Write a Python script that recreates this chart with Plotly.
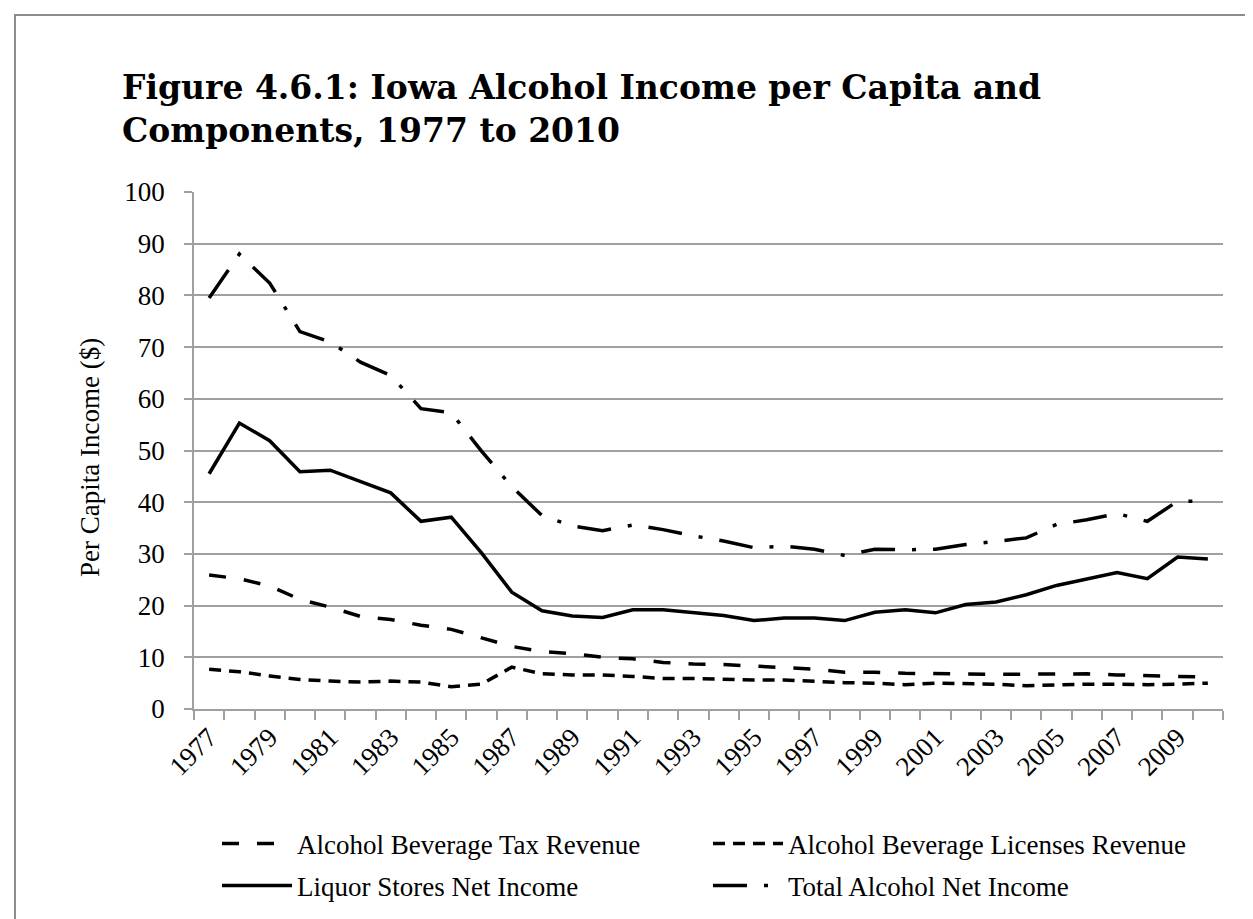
import plotly.graph_objects as go

years = list(range(1977, 2011))

tax_revenue = [25.9, 25.2, 23.8, 21.2, 19.7, 17.9, 17.3, 16.2, 15.4, 13.7,
               12.1, 11.1, 10.7, 10.0, 9.7, 9.0, 8.7, 8.6, 8.3, 8.1,
               7.7, 7.1, 7.1, 6.9, 6.9, 6.8, 6.7, 6.7, 6.8, 6.8,
               6.6, 6.4, 6.3, 6.2]

license_revenue = [7.7, 7.2, 6.4, 5.7, 5.4, 5.2, 5.4, 5.2, 4.3, 4.8,
                   8.1, 6.8, 6.6, 6.6, 6.3, 5.9, 5.9, 5.7, 5.6, 5.6,
                   5.3, 5.1, 5.0, 4.7, 5.0, 4.9, 4.8, 4.5, 4.7, 4.8,
                   4.8, 4.7, 4.8, 5.0]

liquor_stores = [45.5, 55.3, 51.9, 45.9, 46.2, 44.0, 41.8, 36.3, 37.1, 30.2,
                 22.6, 19.0, 18.0, 17.7, 19.2, 19.2, 18.7, 18.1, 17.1, 17.6,
                 17.6, 17.1, 18.7, 19.2, 18.6, 20.2, 20.7, 22.1, 23.9, 25.2,
                 26.4, 25.2, 29.4, 29.0]

total_income = [79.5, 88.0, 82.4, 73.0, 71.0, 67.1, 64.5, 58.1, 57.3, 49.9,
                43.0, 37.4, 35.4, 34.5, 35.6, 34.7, 33.5, 32.5, 31.2, 31.5,
                30.9, 29.7, 30.9, 30.8, 30.9, 31.8, 32.4, 33.1, 35.7, 36.6,
                37.8, 36.3, 40.2, 40.2]

series_names = ["Alcohol Beverage Tax Revenue", "Alcohol Beverage Licenses Revenue",
                "Liquor Stores Net Income", "Total Alcohol Net Income"]

title_lines = ["Figure 4.6.1: Iowa Alcohol Income per Capita and",
               "Components, 1977 to 2010"]
y_title = "Per Capita Income ($)"

label_years = list(range(1977, 2011, 2))
y_ticks = list(range(0, 101, 10))

FONT = "Liberation Serif, Times New Roman, serif"
TITLE_FONT = "DejaVu Serif, Liberation Serif, serif"
GRID = "#a0a0a0"

# figure geometry (pixels)
W, H = 1253, 919
L, R, T, B = 186, 38, 184, 218
PW, PH = W - L - R, H - T - B


def px_x(x):
    return (x - L) / PW


def px_y(y):
    return (H - B - y) / PH


fig = go.Figure()
styles = [
    (tax_revenue, "17px,18px", "legend", 209, 836),
    (license_revenue, "12px,8px", "legend2", 700, 836),
    (liquor_stores, "solid", "legend3", 209, 878),
    (total_income, "34px,17px,4px,17px", "legend4", 700, 878),
]
legends = {}
for (vals, dash, leg, lx, ly), name in zip(styles, series_names):
    fig.add_trace(go.Scatter(
        x=years, y=vals, mode="lines", name=name, legend=leg,
        line=dict(color="black", width=3.5, dash=dash),
    ))
    legends[leg] = dict(
        x=px_x(lx), y=px_y(ly), xanchor="left", yanchor="middle",
        orientation="v", font=dict(family=FONT, size=27, color="black"),
        itemwidth=70, bgcolor="rgba(0,0,0,0)",
    )

fig.update_layout(
    width=W, height=H,
    margin=dict(l=L, r=R, t=T, b=B, autoexpand=False),
    paper_bgcolor="white", plot_bgcolor="white",
    font=dict(family=FONT, size=27, color="black"),
    showlegend=True,
    **legends,
    annotations=[
        dict(text="<b>%s<br>%s</b>" % tuple(title_lines), xref="paper", yref="paper",
             x=px_x(112), y=px_y(101), xanchor="left", yanchor="middle", align="left",
             showarrow=False, font=dict(family=TITLE_FONT, size=33, color="black")),
        dict(text=y_title, xref="paper", yref="paper",
             x=px_x(82), y=px_y(450), xanchor="center", yanchor="middle",
             textangle=-90, showarrow=False,
             font=dict(family=FONT, size=27, color="black")),
    ],
    shapes=[dict(type="rect", xref="paper", yref="paper",
                 x0=px_x(7), x1=px_x(W + 20), y0=px_y(H + 20), y1=px_y(7),
                 line=dict(color="#8c8c8c", width=2), fillcolor="rgba(0,0,0,0)",
                 layer="below")],
)

fig.update_xaxes(
    range=[1976.5, 2010.5], automargin=False,
    tickmode="array", tickvals=label_years, ticktext=[str(y) for y in label_years],
    tickangle=-45, ticks="", showgrid=False,
    showline=True, linecolor=GRID, linewidth=1.5,
    tickfont=dict(family=FONT, size=27),
    minor=dict(tickmode="array", tickvals=[y - 0.5 for y in years] + [2010.5],
               ticks="outside", ticklen=9, tickcolor=GRID, tickwidth=1.5, showgrid=False),
)
fig.update_yaxes(
    range=[0, 100], automargin=False, tickmode="array", tickvals=y_ticks,
    showgrid=True, gridcolor=GRID, gridwidth=1.5,
    showline=True, linecolor=GRID, linewidth=1.5,
    ticks="outside", ticklen=8, tickcolor=GRID, tickwidth=1.5,
    ticklabelstandoff=14,
    tickfont=dict(family=FONT, size=27),
    zeroline=False,
)

fig.write_html("out.html")
